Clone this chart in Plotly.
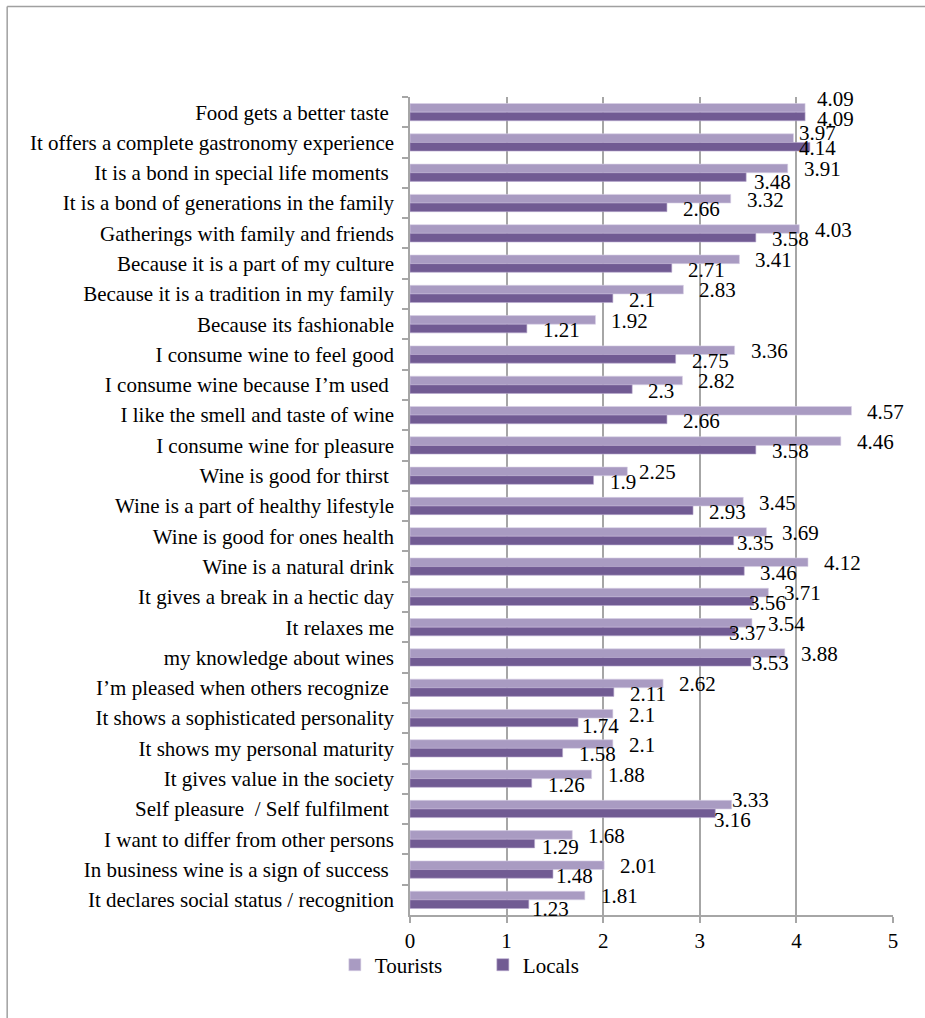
import plotly.graph_objects as go

categories = [
    "Food gets a better taste ",
    "It offers a complete gastronomy experience",
    "It is a bond in special life moments ",
    "It is a bond of generations in the family",
    "Gatherings with family and friends",
    "Because it is a part of my culture",
    "Because it is a tradition in my family",
    "Because its fashionable",
    "I consume wine to feel good",
    "I consume wine because I\u2019m used ",
    "I like the smell and taste of wine",
    "I consume wine for pleasure",
    "Wine is good for thirst ",
    "Wine is a part of healthy lifestyle",
    "Wine is good for ones health",
    "Wine is a natural drink",
    "It gives a break in a hectic day",
    "It relaxes me",
    "my knowledge about wines",
    "I\u2019m pleased when others recognize ",
    "It shows a sophisticated personality",
    "It shows my personal maturity",
    "It gives value in the society",
    "Self pleasure  / Self fulfilment ",
    "I want to differ from other persons",
    "In business wine is a sign of success ",
    "It declares social status / recognition",
]
tourists = [4.09, 3.97, 3.91, 3.32, 4.03, 3.41, 2.83, 1.92, 3.36, 2.82, 4.57, 4.46, 2.25,
            3.45, 3.69, 4.12, 3.71, 3.54, 3.88, 2.62, 2.1, 2.1, 1.88, 3.33, 1.68, 2.01, 1.81]
locals_ = [4.09, 4.14, 3.48, 2.66, 3.58, 2.71, 2.1, 1.21, 2.75, 2.3, 2.66, 3.58, 1.9,
           2.93, 3.35, 3.46, 3.56, 3.37, 3.53, 2.11, 1.74, 1.58, 1.26, 3.16, 1.29, 1.48, 1.23]
x_ticks = [0, 1, 2, 3, 4, 5]

# label placement (pixel offsets, style only): default and per-row adjustments
T_DEFAULT = (14, 3.5)
L_DEFAULT = (14, -6)
T_ADJ = {0: (10, 13), 1: (3, 9), 12: (10, 3.5), 23: (-2, 8.5)}
L_ADJ = {0: (10, -7), 1: (-13, -6), 2: (6, -9), 14: (1, -7), 16: (-7, -6), 17: (-9, -6),
         18: (-1, -6), 20: (2, -8), 23: (-3, -11.5), 24: (5, -7.5), 25: (1, -6.5), 26: (1, -9)}

C_T = "#A99BC2"
C_L = "#715B93"
FONT = "Liberation Serif"
FS = 21

fig = go.Figure()
fig.add_trace(go.Bar(y=categories, x=tourists, orientation="h", name="Tourists",
                     marker=dict(color=C_T, line=dict(color="#D8D0E6", width=0.6))))
fig.add_trace(go.Bar(y=categories, x=locals_, orientation="h", name="Locals",
                     marker=dict(color=C_L, line=dict(color="#B8AACE", width=0.6))))

ann = []
for i, (c, t, l) in enumerate(zip(categories, tourists, locals_)):
    tx, ty = T_ADJ.get(i, T_DEFAULT)
    lx, ly = L_ADJ.get(i, L_DEFAULT)
    ann.append(dict(x=t, y=c, xref="x", yref="y", text=f"{t:g}", showarrow=False,
                    xanchor="left", yanchor="middle", xshift=tx, yshift=ty,
                    font=dict(family=FONT, size=FS, color="#000000")))
    ann.append(dict(x=l, y=c, xref="x", yref="y", text=f"{l:g}", showarrow=False,
                    xanchor="left", yanchor="middle", xshift=lx, yshift=ly,
                    font=dict(family=FONT, size=FS, color="#000000")))

n = len(categories)
fig.update_layout(
    width=925, height=1018,
    margin=dict(l=410, r=32, t=97, b=103, autoexpand=False),
    paper_bgcolor="white", plot_bgcolor="white",
    barmode="group", bargap=0.43, bargroupgap=0,
    font=dict(family=FONT, size=FS, color="#000000"),
    showlegend=True,
    legend=dict(orientation="h", x=0.362, xanchor="left", xref="container",
                y=0.052, yanchor="middle", yref="container",
                font=dict(family=FONT, size=FS), entrywidth=103, entrywidthmode="pixels",
                bgcolor="rgba(0,0,0,0)"),
    annotations=ann,
    shapes=[
        dict(type="line", xref="paper", yref="paper", x0=-0.834, x1=1.2, y0=1.1106, y1=1.1106,
             line=dict(color="#A0A0A0", width=1.5)),
        dict(type="line", xref="paper", yref="paper", x0=-0.834, x1=-0.834, y0=1.1106, y1=-0.2,
             line=dict(color="#A0A0A0", width=1.5)),
    ],
)
fig.update_xaxes(range=[0, 5], tickvals=x_ticks, ticktext=[str(v) for v in x_ticks],
                 showgrid=True, gridcolor="#A6A6A6", gridwidth=1.5,
                 showline=True, linecolor="#A6A6A6", linewidth=1.5,
                 ticks="outside", ticklen=6, tickcolor="#A6A6A6", tickwidth=1.5,
                 zeroline=False, tickfont=dict(family=FONT, size=FS), fixedrange=True)
fig.update_yaxes(range=[n - 0.5, -0.5], autorange=False, type="category", tickson="boundaries",
                 showgrid=False, showline=True, linecolor="#A6A6A6", linewidth=1.5,
                 ticks="outside", ticklen=6, tickcolor="#A6A6A6", tickwidth=1.5,
                 tickfont=dict(family=FONT, size=FS), ticklabelstandoff=10)

fig.write_html("out.html")
